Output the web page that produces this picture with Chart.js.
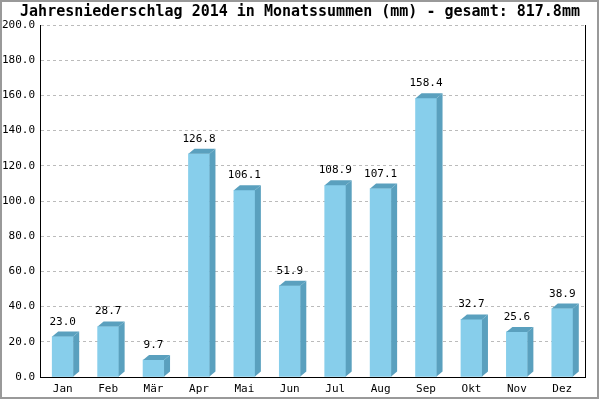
<!DOCTYPE html>
<html>
<head>
<meta charset="utf-8">
<script src="https://cdn.jsdelivr.net/npm/chart.js@4"></script>
<style>
  html, body { margin: 0; padding: 0; background: #fff; }
  canvas { display: block; }
</style>
</head>
<body>
<canvas id="chart" width="600" height="400"></canvas>
<script>
const months = ["Jan", "Feb", "Mär", "Apr", "Mai", "Jun", "Jul", "Aug", "Sep", "Okt", "Nov", "Dez"];
const rainfall = [23.0, 28.7, 9.7, 126.8, 106.1, 51.9, 108.9, 107.1, 158.4, 32.7, 25.6, 38.9];
const titleText = "Jahresniederschlag 2014 in Monatssummen (mm) - gesamt: 817.8mm";

const frontColor = "rgb(135, 206, 235)";
const sideColor = "rgb(90, 160, 190)";
const monoFont = "'DejaVu Sans Mono', monospace";

// draws the 3d side/top, the value labels, the right frame line, title and outer border
const depthBars = {
	id: "depthBars",
	afterDatasetsDraw(chart) {
		const ctx = chart.ctx;
		const dx = 6, dy = 5;
		const meta = chart.getDatasetMeta(0);
		ctx.save();
		meta.data.forEach((bar, i) => {
			const p = bar.getProps(["x", "y", "base", "width"], true);
			const l = p.x - p.width / 2;
			const r = p.x + p.width / 2;
			ctx.fillStyle = sideColor;
			ctx.beginPath();
			ctx.moveTo(r, p.y);
			ctx.lineTo(r + dx, p.y - dy);
			ctx.lineTo(r + dx, p.base - dy);
			ctx.lineTo(r, p.base);
			ctx.closePath();
			ctx.fill();
			ctx.beginPath();
			ctx.moveTo(l, p.y);
			ctx.lineTo(l + dx, p.y - dy);
			ctx.lineTo(r + dx, p.y - dy);
			ctx.lineTo(r, p.y);
			ctx.closePath();
			ctx.fill();

			ctx.fillStyle = "#000";
			ctx.font = "11px " + monoFont;
			ctx.textAlign = "center";
			ctx.textBaseline = "alphabetic";
			ctx.fillText(rainfall[i].toFixed(1), p.x, p.y - 12);
		});

		const a = chart.chartArea;
		ctx.strokeStyle = "#000";
		ctx.lineWidth = 1;
		ctx.beginPath();
		ctx.moveTo(Math.round(a.right) + 0.5, a.top);
		ctx.lineTo(Math.round(a.right) + 0.5, a.bottom);
		ctx.stroke();

		// title, centred on the whole picture
		ctx.fillStyle = "#000";
		ctx.font = "bold 15px " + monoFont;
		ctx.textAlign = "center";
		ctx.textBaseline = "middle";
		ctx.fillText(titleText, 300, 12);

		ctx.strokeStyle = "#999";
		ctx.lineWidth = 2;
		ctx.strokeRect(1, 1, 597, 397);
		ctx.restore();
	}
};

new Chart(document.getElementById("chart"), {
	type: "bar",
	data: {
		labels: months,
		datasets: [
			{
				data: rainfall,
				backgroundColor: frontColor,
				borderWidth: 0,
				barThickness: 21,
			},
		],
	},
	options: {
		responsive: false,
		animation: false,
		devicePixelRatio: 1,
		layout: { padding: { left: 0, right: 15, top: 25, bottom: 0 } },
		plugins: {
			legend: { display: false },
			tooltip: { enabled: false },
			title: { display: false },
		},
		scales: {
			x: {
				grid: { display: false, drawTicks: false },
				border: { color: "#000", width: 1 },
				ticks: { color: "#000", font: { family: monoFont, size: 11 }, padding: 6 },
				afterFit: (s) => { s.height = 23; },
			},
			y: {
				min: 0,
				max: 200,
				grid: { color: "#bbb", drawTicks: false },
				border: { color: "#000", width: 1, dash: [3, 3] },
				ticks: {
					stepSize: 20,
					color: "#000",
					font: { family: monoFont, size: 11 },
					padding: 5,
					callback: (v) => v.toFixed(1),
				},
				afterFit: (s) => { s.width = 40; },
			},
		},
	},
	plugins: [depthBars],
});
</script>
</body>
</html>
